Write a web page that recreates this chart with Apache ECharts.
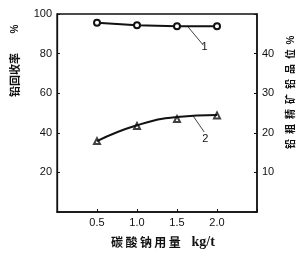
<!DOCTYPE html>
<html><head><meta charset="utf-8">
<script src="https://cdn.jsdelivr.net/npm/echarts@6/dist/echarts.min.js"></script>
<style>html,body{margin:0;padding:0;background:#fff}#c{width:307px;height:258px}</style>
</head><body><div id="c"></div>
<script>
const dosage = [0.5, 1.0, 1.5, 2.0];
const recovery = [95.6, 94.3, 93.8, 93.8];
const grade = [17.9, 21.7, 23.5, 24.4];
const gradeFit = [17.9, 21.9, 24.0, 24.5];
const xTicks = ['0.5', '1.0', '1.5', '2.0'];
const leftTicks = ['20', '40', '60', '80', '100'];
const rightTicks = ['10', '20', '30', '40'];

const chart = echarts.init(document.getElementById('c'), null, {renderer: 'canvas'});
const pair = (xs, ys) => xs.map((x, i) => [x, ys[i]]);
const tickFont = {color: '#111', fontSize: 11, fontFamily: 'Liberation Sans'};
const titleFont = 'Noto Sans CJK SC';

chart.setOption({
  animation: false,
  grid: {left: 57, top: 14, width: 200, height: 198, show: true, borderColor: '#111', borderWidth: 1.3},
  xAxis: {
    type: 'value', min: 0, max: 2.5, interval: 0.5,
    axisLine: {lineStyle: {color: '#111', width: 1.5}},
    axisTick: {inside: true, length: 3, lineStyle: {color: '#111'}},
    splitLine: {show: false},
    axisLabel: Object.assign({margin: 5, formatter: v => { const s = v.toFixed(1); return xTicks.includes(s) ? s : ''; }}, tickFont),
    name: '碳\u2009酸\u2009钠\u2009用\u2009量    {u|kg/t}', nameLocation: 'middle', nameGap: 23,
    nameTextStyle: {color: '#111', fontSize: 12, fontWeight: 'bold', fontFamily: titleFont, padding: [0, 0, 0, 12],
      rich: {u: {fontFamily: 'Liberation Serif', fontWeight: 'bold', fontSize: 14, color: '#111'}}}
  },
  yAxis: [{
    type: 'value', min: 0, max: 100, interval: 20, position: 'left',
    axisLine: {show: true, lineStyle: {color: '#111', width: 1.3}},
    axisTick: {show: true, inside: true, length: 3, lineStyle: {color: '#111'}},
    splitLine: {show: false},
    axisLabel: Object.assign({margin: 5, formatter: v => leftTicks.includes(String(v)) ? String(v) : ''}, tickFont)
  }, {
    type: 'value', min: 0, max: 50, interval: 10, position: 'right',
    axisLine: {show: true, lineStyle: {color: '#111', width: 1.5}},
    axisTick: {show: true, inside: true, length: 3, lineStyle: {color: '#111'}},
    splitLine: {show: false},
    axisLabel: Object.assign({margin: 5, formatter: v => rightTicks.includes(String(v)) ? String(v) : ''}, tickFont)
  }],
  series: [{
    type: 'line', yAxisIndex: 0, data: pair(dosage, recovery),
    symbol: 'emptyCircle', symbolSize: 6,
    lineStyle: {color: '#111', width: 2}, itemStyle: {color: '#111', borderWidth: 2.2},
    markLine: {
      silent: true, symbol: 'none',
      lineStyle: {color: '#111', width: 0.8, type: 'solid'},
      label: {show: true, position: 'end', formatter: '1', color: '#111', fontSize: 11, fontFamily: 'Liberation Sans', distance: 2},
      data: [[{coord: [1.64, 93.4]}, {coord: [1.83, 84.2]}]]
    }
  }, {
    type: 'line', yAxisIndex: 1, data: pair(dosage, gradeFit), smooth: 0.5,
    symbol: 'none', lineStyle: {color: '#111', width: 2},
    markLine: {
      silent: true, symbol: 'none',
      lineStyle: {color: '#111', width: 0.8, type: 'solid'},
      label: {show: true, position: 'end', formatter: '2', color: '#111', fontSize: 11, fontFamily: 'Liberation Sans', distance: 2},
      data: [[{coord: [1.70, 24.3]}, {coord: [1.84, 20.2]}]]
    }
  }, {
    type: 'scatter', yAxisIndex: 1, data: pair(dosage, grade),
    symbol: 'emptyTriangle', symbolSize: 6,
    itemStyle: {color: '#111', borderColor: '#111', borderWidth: 2.6}
  }],
  graphic: [
    {type: 'text', x: 15, y: 75, rotation: Math.PI / 2,
      style: {text: '铅回收率', fontSize: 11, fontWeight: 'bold', fontFamily: titleFont, fill: '#111', align: 'center', verticalAlign: 'middle'}},
    {type: 'text', x: 15, y: 29, rotation: Math.PI / 2,
      style: {text: '%', fontSize: 10, fontWeight: 'bold', fontFamily: 'Liberation Sans', fill: '#111', align: 'center', verticalAlign: 'middle'}},
    {type: 'text', x: 290, y: 99, rotation: Math.PI / 2,
      style: {text: '铅\u2002粗\u2002精\u2002矿\u2002铅\u2002品\u2002位', fontSize: 10, fontWeight: 'bold', fontFamily: titleFont, fill: '#111', align: 'center', verticalAlign: 'middle'}},
    {type: 'text', x: 291, y: 40, rotation: Math.PI / 2,
      style: {text: '%', fontSize: 10, fontWeight: 'bold', fontFamily: 'Liberation Sans', fill: '#111', align: 'center', verticalAlign: 'middle'}}
  ]
});
</script></body></html>
